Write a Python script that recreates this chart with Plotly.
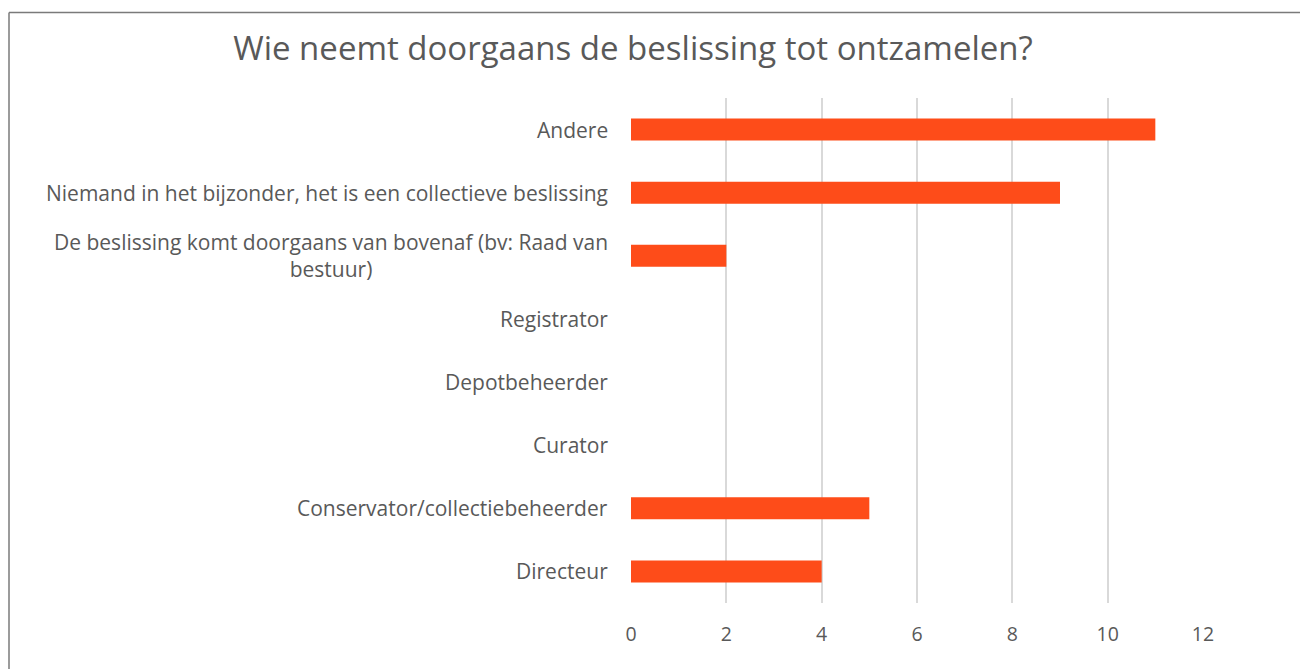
import plotly.graph_objects as go

# Categories listed bottom-to-top (Plotly puts first category at the bottom)
categories = [
    "Directeur",
    "Conservator/collectiebeheerder",
    "Curator",
    "Depotbeheerder",
    "Registrator",
    "De beslissing komt doorgaans van bovenaf (bv: Raad van<br>bestuur)",
    "Niemand in het bijzonder, het is een collectieve beslissing",
    "Andere",
]
values = [4, 5, 0, 0, 0, 2, 9, 11]
x_ticks = [0, 2, 4, 6, 8, 10, 12]
title_text = "Wie neemt doorgaans de beslissing tot ontzamelen?"

# page body has an 8px margin, so the figure is drawn 8px smaller
W, H = 1300, 661
L, R, T, B = 623, 105, 90, 66
pw, ph = W - L - R, H - T - B

FONT = "Open Sans"
GREY = "#595959"

fig = go.Figure()
fig.add_trace(go.Bar(
    x=values, y=categories, orientation="h",
    marker=dict(color="#FE4C19", line=dict(width=0)),
    width=0.35,
))

annotations = []
for c in categories:
    annotations.append(dict(
        x=0, xref="paper", y=c, yref="y", text=c, showarrow=False,
        xanchor="right", yanchor="middle", align="center", xshift=-21,
        font=dict(family=FONT, size=21, color=GREY),
    ))

def px_to_paper_x(p):
    return (p - L) / pw

def px_to_paper_y(p):
    return (H - B - p) / ph

shapes = [
    dict(type="line", xref="paper", yref="paper",
         x0=px_to_paper_x(1), x1=px_to_paper_x(1),
         y0=px_to_paper_y(4.5), y1=px_to_paper_y(H + 5),
         line=dict(color="#7a7a7a", width=1.5)),
    dict(type="line", xref="paper", yref="paper",
         x0=px_to_paper_x(1), x1=px_to_paper_x(W + 5),
         y0=px_to_paper_y(4.5), y1=px_to_paper_y(4.5),
         line=dict(color="#7a7a7a", width=1.5)),
]

fig.update_layout(
    width=W, height=H,
    margin=dict(l=L, r=R, t=T, b=B),
    paper_bgcolor="white", plot_bgcolor="white",
    showlegend=False,
    title=dict(text=title_text, xref="container", yref="container",
               x=625 / W, xanchor="center", y=1 - 40 / H, yanchor="middle",
               font=dict(family=FONT, size=33, color=GREY)),
    xaxis=dict(range=[0, 12], tickvals=x_ticks, showgrid=True,
               gridcolor="#d9d9d9", gridwidth=1.5, zeroline=False,
               showline=False, ticks="outside", ticklen=14,
               tickcolor="rgba(0,0,0,0)",
               tickfont=dict(family=FONT, size=19.5, color=GREY)),
    yaxis=dict(type="category", categoryorder="array", categoryarray=categories,
               range=[-0.5, 7.5], showticklabels=False, showgrid=False,
               zeroline=False, showline=False),
    annotations=annotations,
    shapes=shapes,
)

fig.write_html("out.html")
